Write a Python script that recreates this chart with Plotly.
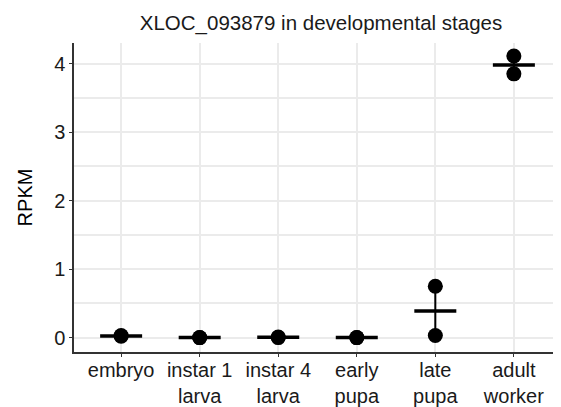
import numpy as np
import plotly.graph_objects as go

stages = ["embryo", "instar 1<br>larva", "instar 4<br>larva", "early<br>pupa", "late<br>pupa", "adult<br>worker"]
rep1 = [0.03, 0.00, 0.01, 0.00, 0.75, 4.11]
rep2 = [0.02, 0.00, 0.00, 0.00, 0.03, 3.85]
yticks = [0, 1, 2, 3, 4]

xpos = np.arange(1, len(stages) + 1)
vals = np.array([rep1, rep2])
means = vals.mean(axis=0)
se = vals.std(axis=0, ddof=1) / np.sqrt(vals.shape[0])

fig = go.Figure()
fig.add_trace(go.Scatter(x=xpos, y=means, mode="markers",
                         marker=dict(symbol="line-ew-open", size=30,
                                     line=dict(width=3.5, color="black"), color="black"),
                         error_y=dict(type="data", array=se, visible=True,
                                      color="black", thickness=2, width=7),
                         showlegend=False))
for r in (rep1, rep2):
    fig.add_trace(go.Scatter(x=xpos, y=r, mode="markers",
                             marker=dict(size=15, color="black"),
                             showlegend=False, hoverinfo="y"))

# the page body adds an 8px offset; margins compensate for it
font = "Liberation Sans, Arial, sans-serif"
fig.update_layout(
    width=561, height=407,
    margin=dict(l=66, r=8, t=35, b=63, autoexpand=False),
    paper_bgcolor="white", plot_bgcolor="white",
    font=dict(family=font, color="black", size=20),
    title=dict(text="XLOC_093879 in developmental stages", x=(321 - 8) / 561, xanchor="center",
               y=1 - 15 / 407, yanchor="middle", font=dict(size=20.5, color="#1a1a1a")),
)
fig.update_xaxes(range=[0.4, 6.6], tickvals=xpos, ticktext=stages,
                 showgrid=True, gridcolor="#EBEBEB", gridwidth=2,
                 showline=True, linecolor="#333", linewidth=1.5,
                 ticks="outside", ticklen=3, tickcolor="#333", ticklabelstandoff=-4,
                 tickfont=dict(size=20, color="#1a1a1a"), zeroline=False, automargin=False)
fig.update_yaxes(range=[-0.21, 4.3], tickvals=yticks, ticktext=[str(t) for t in yticks],
                 showgrid=True, gridcolor="#EBEBEB", gridwidth=2,
                 minor=dict(dtick=0.5, tick0=0, showgrid=True, gridcolor="#EBEBEB", gridwidth=1.5),
                 showline=True, linecolor="#333", linewidth=1.5,
                 ticks="outside", ticklen=3, tickcolor="#333",
                 tickfont=dict(size=20, color="#1a1a1a"), zeroline=False, automargin=False,
                 title=dict(text="RPKM", font=dict(size=20, color="black"), standoff=16))

fig.write_html("out.html")
